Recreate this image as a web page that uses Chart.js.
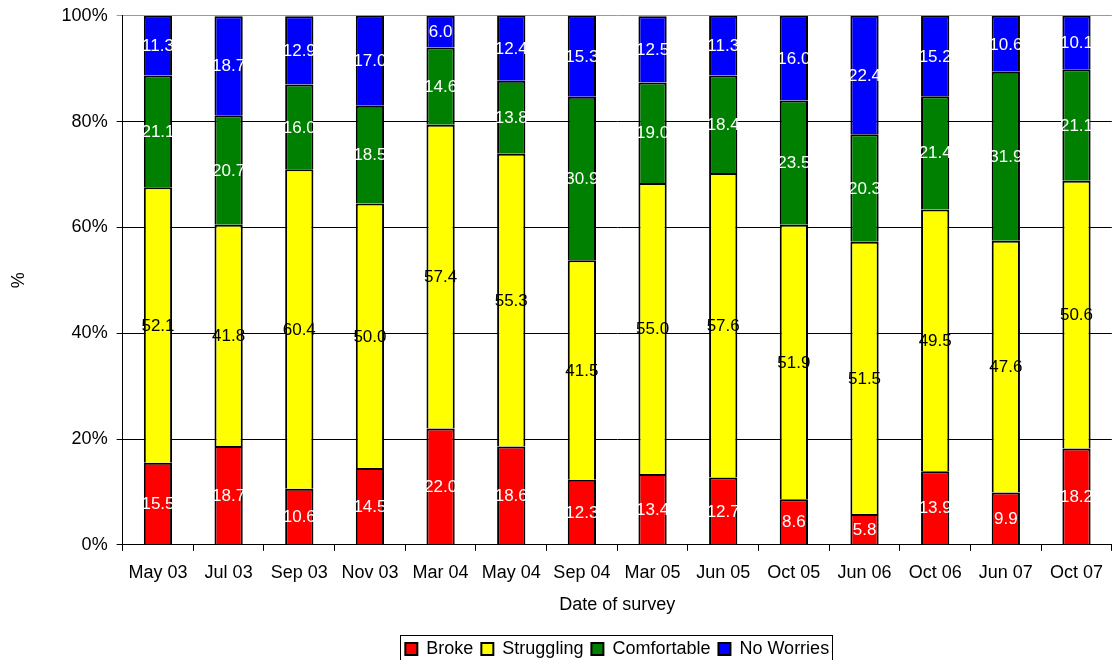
<!DOCTYPE html>
<html>
<head>
<meta charset="utf-8">
<title>Financial situation by survey</title>
<script src="https://cdn.jsdelivr.net/npm/chart.js@4.4.0/dist/chart.umd.min.js"></script>
<style>
  html, body { margin: 0; padding: 0; background: #fff; overflow: hidden; }
  canvas { display: block; margin-top: -4px; }
</style>
</head>
<body>
<canvas id="myChart" width="1114" height="672"></canvas>
<script>
const surveys = ['May 03', 'Jul 03', 'Sep 03', 'Nov 03', 'Mar 04', 'May 04', 'Sep 04',
                 'Mar 05', 'Jun 05', 'Oct 05', 'Jun 06', 'Oct 06', 'Jun 07', 'Oct 07'];
const broke       = [15.5, 18.7, 10.6, 14.5, 22.0, 18.6, 12.3, 13.4, 12.7, 8.6, 5.8, 13.9, 9.9, 18.2];
const struggling  = [52.1, 41.8, 60.4, 50.0, 57.4, 55.3, 41.5, 55.0, 57.6, 51.9, 51.5, 49.5, 47.6, 50.6];
const comfortable = [21.1, 20.7, 16.0, 18.5, 14.6, 13.8, 30.9, 19.0, 18.4, 23.5, 20.3, 21.4, 31.9, 21.1];
const noWorries   = [11.3, 18.7, 12.9, 17.0, 6.0, 12.4, 15.3, 12.5, 11.3, 16.0, 22.4, 15.2, 10.6, 10.1];
const yTicks = [0, 20, 40, 60, 80, 100];

const FONT = "'Liberation Sans', Arial, sans-serif";

// value labels in the middle of each segment
const segmentLabels = {
    id: 'segmentLabels',
    afterDatasetsDraw(chart) {
        const ctx = chart.ctx;
        ctx.save();
        ctx.font = '17px ' + FONT;
        ctx.textAlign = 'center';
        ctx.textBaseline = 'middle';
        chart.data.datasets.forEach((ds, i) => {
            const meta = chart.getDatasetMeta(i);
            meta.data.forEach((bar, j) => {
                ctx.fillStyle = ds.labelColor;
                ctx.fillText(ds.data[j].toFixed(1), bar.x, (bar.y + bar.base) / 2 + 1);
            });
        });
        ctx.restore();
    }
};

// centre the legend under the plot area and put a frame round it
const legendFrame = {
    id: 'legendFrame',
    beforeDraw(chart) {
        const lg = chart.legend;
        const shift = (chart.chartArea.left + chart.chartArea.right - lg.left - lg.right) / 2;
        lg.left += shift;
        lg.right += shift;
        lg.$shift = (lg.$shift || 0) + shift;
    },
    afterDraw(chart) {
        const lg = chart.legend;
        const boxes = lg.legendHitBoxes;
        if (!boxes || !boxes.length) return;
        const first = boxes[0], last = boxes[boxes.length - 1];
        const x0 = first.left + lg.$shift - 5;
        const x1 = last.left + last.width + lg.$shift + 3;
        const ctx = chart.ctx;
        ctx.save();
        ctx.strokeStyle = '#000';
        ctx.lineWidth = 1;
        ctx.strokeRect(Math.round(x0) + 0.5, Math.round(first.top - 5) + 0.5, Math.round(x1 - x0), 40);
        ctx.restore();
    }
};

const ctx = document.getElementById('myChart').getContext('2d');
const myChart = new Chart(ctx, {
    type: 'bar',
    data: {
        labels: surveys,
        datasets: [
            { label: 'Broke', data: broke, backgroundColor: '#ff0000', labelColor: '#fff' },
            { label: 'Struggling', data: struggling, backgroundColor: '#ffff00', labelColor: '#000' },
            { label: 'Comfortable', data: comfortable, backgroundColor: '#008000', labelColor: '#fff' },
            { label: 'No Worries', data: noWorries, backgroundColor: '#0000ff', labelColor: '#fff' }
        ].map(d => Object.assign(d, {
            borderColor: '#000',
            borderWidth: 2,
            borderSkipped: 'start',
            barPercentage: 0.4,
            categoryPercentage: 1.0
        }))
    },
    options: {
        responsive: false,
        animation: false,
        layout: { padding: { top: 11, left: 0, right: 0, bottom: 0 } },
        plugins: {
            legend: {
                position: 'bottom',
                labels: {
                    color: '#000',
                    font: { family: FONT, size: 18 },
                    boxWidth: 12,
                    boxHeight: 12,
                    padding: 8,
                    useBorderRadius: false
                }
            },
            tooltip: { enabled: false }
        },
        scales: {
            x: {
                stacked: true,
                grid: {
                    offset: true,
                    drawOnChartArea: false,
                    color: '#000',
                    tickLength: 6
                },
                border: { color: '#000', width: 1 },
                ticks: {
                    color: '#000',
                    font: { family: FONT, size: 18 },
                    padding: 11,
                    maxRotation: 0,
                    autoSkip: false
                },
                title: {
                    display: true,
                    text: 'Date of survey',
                    color: '#000',
                    font: { family: FONT, size: 18 },
                    padding: { top: 0, bottom: 16 }
                }
            },
            y: {
                stacked: true,
                min: 0,
                max: 100,
                afterBuildTicks(scale) {
                    scale.ticks = yTicks.map(v => ({ value: v }));
                },
                grid: {
                    color: c => (c.tick && c.tick.value === 100) ? '#999' : '#000',
                    tickLength: 6
                },
                border: { color: '#000', width: 1 },
                ticks: {
                    color: '#000',
                    font: { family: FONT, size: 18 },
                    padding: 9,
                    callback: v => v + '%'
                },
                title: {
                    display: true,
                    text: '%',
                    color: '#000',
                    font: { family: FONT, size: 18 },
                    padding: { top: 8, bottom: 23 }
                }
            }
        }
    },
    plugins: [segmentLabels, legendFrame]
});
</script>
</body>
</html>
